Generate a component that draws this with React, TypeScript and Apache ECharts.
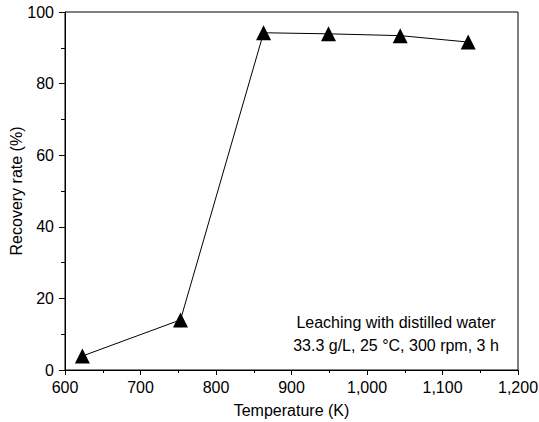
import React, { useEffect, useRef } from "react";
import * as echarts from "echarts";

const temperatures = [623, 753, 863, 949, 1044, 1134];
const recovery = [3.9, 14.0, 94.2, 93.9, 93.4, 91.6];
const annotationLines = ["Leaching with distilled water", "33.3 g/L, 25 °C, 300 rpm, 3 h"];

const FONT = "Liberation Sans, Arial, sans-serif";

export default function App() {
  const ref = useRef<HTMLDivElement>(null);
  useEffect(() => {
    if (!ref.current) return;
    const chart = echarts.init(ref.current, undefined, { renderer: "svg" });
    chart.setOption({
      animation: false,
      backgroundColor: "#fff",
      grid: {
        left: 65,
        right: 21,
        top: 12,
        bottom: 52,
        show: true,
        borderColor: "#000",
        borderWidth: 1,
        containLabel: false,
        outerBoundsMode: "none",
      },
      xAxis: {
        type: "value",
        min: 600,
        max: 1200,
        interval: 100,
        name: "Temperature (K)",
        nameLocation: "middle",
        nameGap: 32,
        nameMoveOverlap: false,
        nameTextStyle: { color: "#000", fontSize: 16, fontFamily: FONT },
        axisLine: { show: true, lineStyle: { color: "#000", width: 1 } },
        axisTick: { show: true, length: 5, lineStyle: { color: "#000" } },
        minorTick: { show: true, splitNumber: 2, length: 3, lineStyle: { color: "#000" } },
        splitLine: { show: false },
        axisLabel: {
          color: "#000",
          fontSize: 16,
          fontFamily: FONT,
          margin: 9,
          formatter: (v: number) => v.toLocaleString("en-US"),
        },
      },
      yAxis: {
        type: "value",
        min: 0,
        max: 100,
        interval: 20,
        name: "Recovery rate (%)",
        nameLocation: "middle",
        nameGap: 41,
        nameMoveOverlap: false,
        nameTextStyle: { color: "#000", fontSize: 16, fontFamily: FONT },
        axisLine: { show: true, lineStyle: { color: "#000", width: 1 } },
        axisTick: { show: true, length: 6, lineStyle: { color: "#000" } },
        minorTick: { show: true, splitNumber: 2, length: 4, lineStyle: { color: "#000" } },
        splitLine: { show: false },
        axisLabel: { color: "#000", fontSize: 16, fontFamily: FONT, margin: 11 },
      },
      graphic: annotationLines.map((t, i) => ({
        type: "text",
        x: 396,
        y: 322 + i * 23,
        style: {
          text: t,
          fill: "#000",
          font: `16px ${FONT}`,
          textAlign: "center",
          textVerticalAlign: "middle",
        },
      })),
      series: [
        {
          type: "line",
          data: temperatures.map((t, i) => [t, recovery[i]]),
          symbol: "triangle",
          symbolSize: 15,
          showAllSymbol: true,
          lineStyle: { color: "#000", width: 1 },
          itemStyle: { color: "#000" },
        },
      ],
    });
    return () => chart.dispose();
  }, []);
  return (
    <div
      ref={ref}
      style={{ position: "fixed", left: 0, top: 0, width: 539, height: 422, background: "#fff" }}
    />
  );
}
